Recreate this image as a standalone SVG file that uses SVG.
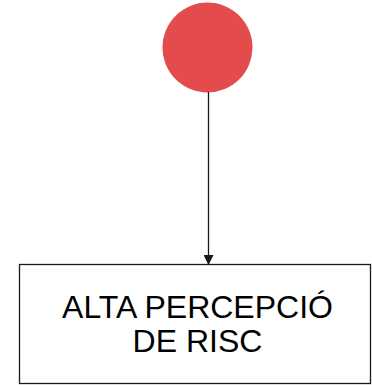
<svg xmlns="http://www.w3.org/2000/svg" width="372" height="385" viewBox="0 0 372 385">
<defs>
<style>
.lbl{font-family:"Liberation Sans",Arial,sans-serif;font-size:32px;fill:#000;text-anchor:middle}
.edge{stroke:#1a1a1a;stroke-width:1.3;fill:none}
</style>
<marker id="arr" markerWidth="10" markerHeight="10" refX="9" refY="5" orient="auto" markerUnits="userSpaceOnUse">
<path d="M0,0 L10,5 L0,10 Z" fill="#1a1a1a"/>
</marker>
</defs>
<rect width="372" height="385" fill="#fff"/>
<g id="start">
<circle cx="207.5" cy="47.5" r="45" fill="#e34b4c"/>
</g>
<g id="connectors">
<line class="edge" x1="208.5" y1="92" x2="208.5" y2="264" marker-end="url(#arr)"/>
</g>
<g id="box">
<rect x="19.5" y="264.5" width="351" height="119" fill="#fff" stroke="#1a1a1a" stroke-width="1.3"/>
<text class="lbl" x="197.5" y="318">ALTA PERCEPCIÓ</text>
<text class="lbl" x="197.5" y="352">DE RISC</text>
</g>
</svg>
